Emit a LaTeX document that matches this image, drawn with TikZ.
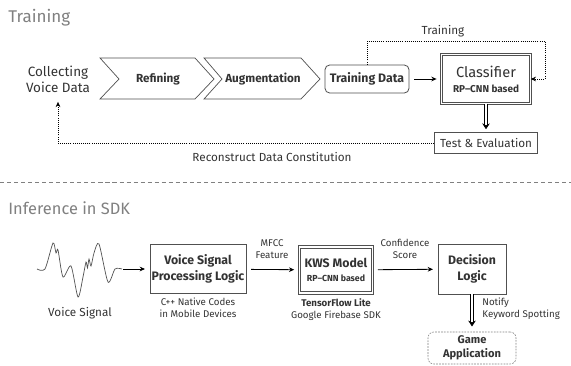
\documentclass[tikz,border=0pt]{standalone}
\usepackage{fontspec}
\setmainfont{Fira Sans}
\usetikzlibrary{arrows.meta,positioning}
\definecolor{txtgray}{HTML}{333333}
\definecolor{titlegray}{HTML}{808080}
\definecolor{linegray}{HTML}{505050}

\begin{document}
\begin{tikzpicture}[
    x=0.03cm, y=-0.03cm,
    >={Stealth[length=4.5pt,width=4pt]},
    every node/.style={text=txtgray, align=center, inner sep=1pt, font=\fontsize{10}{12}\selectfont},
    title/.style={text=titlegray, anchor=west, font=\fontsize{14.5}{17}\selectfont},
    small/.style={font=\fontsize{8.3}{10.5}\selectfont},
    chevron/.style={draw=linegray, line width=0.6pt},
    box/.style={draw=linegray, line width=0.7pt},
    dblbox/.style={draw=linegray, line width=0.7pt, double=white, double distance=1.3pt},
    arr/.style={->, line width=0.7pt, shorten <=4pt, shorten >=4pt},
    dots/.style={->, densely dotted, line width=0.8pt},
    dblarr/.style={line width=0.6pt, double=white, double distance=1.4pt, -{Stealth[length=5pt,width=6.5pt]}}
]
\useasboundingbox (0,0) rectangle (571,365);

% training
\node[title] (ttrain) at (7,18) {Training};
\node[font=\fontsize{11.5}{13.5}\selectfont] (collect) at (58,79) {Collecting\\Voice Data};
\draw[chevron] (100,58) -- (195,58) -- (214,79) -- (195,99) -- (100,99) -- (119,79) -- cycle;
\draw[chevron] (204,58) -- (301,58) -- (320,79) -- (301,99) -- (204,99) -- (222,79) -- cycle;
\node[font=\bfseries\fontsize{10}{12}\selectfont] (refine) at (158,79) {Refining};
\node[font=\bfseries\fontsize{10}{12}\selectfont] (augment) at (263,79) {Augmentation};
\node[box, rounded corners=4pt, minimum width=2.52cm, minimum height=0.84cm,
      font=\bfseries\fontsize{10.5}{12}\selectfont] (tdata) at (367,79) {Training Data};
\node[dblbox, minimum width=2.66cm, minimum height=1.46cm] (cls) at (486,79)
    {{\fontsize{12.5}{15}\selectfont Classifier}\\[1pt]{\bfseries\fontsize{8.5}{10}\selectfont RP--CNN based}};
\node[box, line width=0.6pt, minimum width=3.09cm, minimum height=0.63cm] (test) at (486,143) {Test \& Evaluation};
\coordinate (loopR) at (545,41);
\coordinate (backL) at ([yshift=-7pt]collect.south);

\draw[arr] (tdata) -- (cls);
\draw[dots] (tdata.north) |- (loopR) |- (cls.east);
\node (lbltrain) at (443,31) {Training};
\draw[dblarr, shorten >=2.5pt] (cls.south) -- (test.north);
\draw[dots] (test.west) -| (backL);
\node (lblrecon) at (272,157) {Reconstruct Data Constitution};

\draw[titlegray, dashed, dash pattern=on 3.5pt off 2.5pt, line width=0.6pt] (0,182) -- (571,182);

% inference
\node[title, font=\fontsize{14}{17}\selectfont] (tinfer) at (7,208) {Inference in SDK};
\draw[linegray, line width=0.6pt] plot[smooth, tension=0.45] coordinates {
    (37,269) (45,269) (53,243) (56,253) (58,250) (63,277) (71,266) (78,297)
    (83,277) (86,262) (87.5,268) (89,259) (91,266) (94,253) (99,244) (108,282) (115,269) (122,269)};
\coordinate (wave) at (123,269);
\node (lblvoice) at (80,313) {Voice Signal};
\node[box, line width=0.6pt, minimum width=2.88cm, minimum height=1.47cm,
      font=\bfseries\fontsize{10.5}{13.5}\selectfont] (vspl) at (198,269) {Voice Signal\\Processing Logic};
\node[small, below=2pt of vspl] (cpp) {C++ Native Codes\\in Mobile Devices};
\node[dblbox, minimum width=2.2cm, minimum height=1.38cm] (kws) at (336,270)
    {{\bfseries\fontsize{10.5}{13}\selectfont KWS Model}\\{\bfseries\fontsize{7.5}{9}\selectfont RP--CNN based}};
\node[small, below=3pt of kws] (tflite) {{\bfseries TensorFlow Lite}\\Google Firebase SDK};
\node[box, line width=0.6pt, minimum width=2.04cm, minimum height=1.5cm,
      font=\bfseries\fontsize{10.5}{13.5}\selectfont] (decide) at (472,269) {Decision\\Logic};
\node[box, draw=titlegray, dashed, dash pattern=on 1.5pt off 1pt, line width=0.5pt, rounded corners=5pt,
      minimum width=2.64cm, minimum height=0.96cm,
      font=\bfseries\fontsize{9.5}{12}\selectfont] (game) at (472,348) {Game\\Application};

\draw[arr, shorten <=0pt] (wave) -- (vspl);
\draw[arr] (vspl) -- (kws);
\node[small] (lblmfcc) at (272,249) {MFCC\\Feature};
\draw[arr] (kws) -- (decide);
\node[small] (lblconf) at (405,249) {Confidence\\Score};
\draw[dblarr, shorten >=4.5pt] (decide.south) -- (game.north);
\node[small, anchor=west, align=left] (lblnotify) at (481,309) {Notify\\Keyword Spotting};
\end{tikzpicture}
\end{document}
